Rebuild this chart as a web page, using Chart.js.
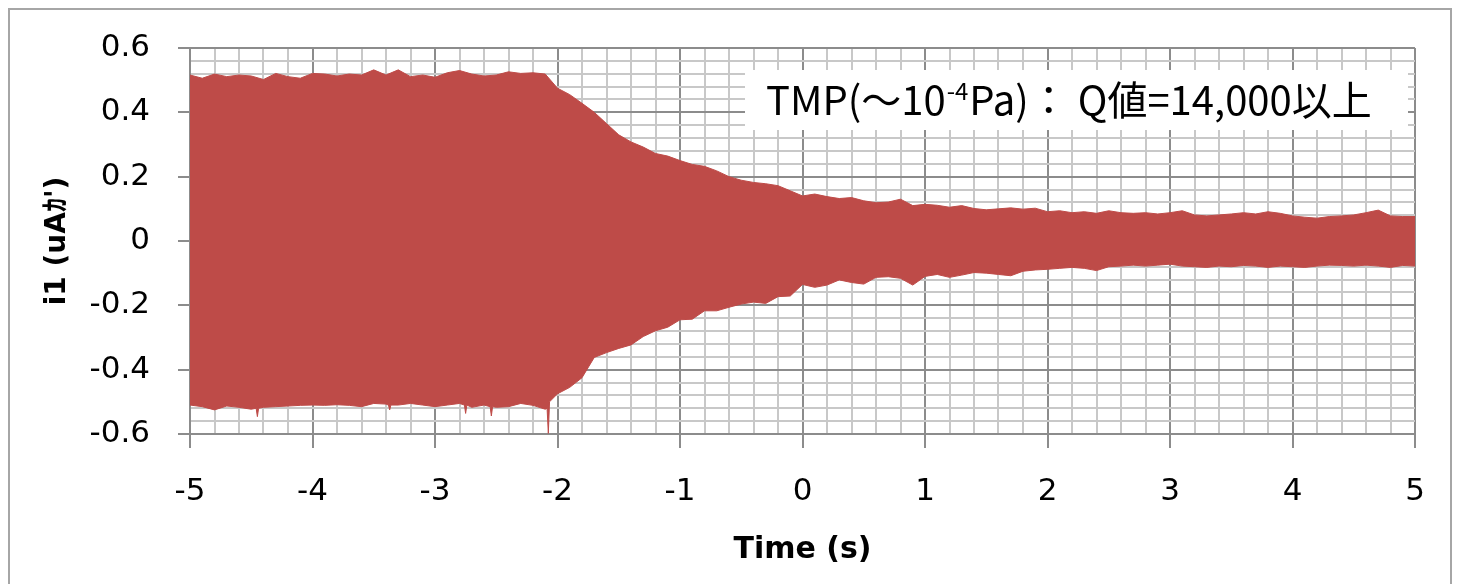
<!DOCTYPE html>
<html>
<head>
<meta charset="utf-8">
<script src="https://cdn.jsdelivr.net/npm/chart.js@4.4.1/dist/chart.umd.min.js"></script>
<style>
    html, body { margin: 0; padding: 0; background: #fff; }
    #wrap { position: relative; width: 1460px; height: 584px; overflow: hidden; }
    #frame { position: absolute; left: 8px; top: 8px; width: 1444px; height: 620px; border: 2px solid #a6a6a6; box-sizing: border-box; }
    #chart { position: absolute; left: 0; top: 0; }
</style>
</head>
<body>
<div id="wrap">
    <div id="frame"></div>
    <canvas id="chart" width="1460" height="584"></canvas>
</div>
<script>
// sample times (s) along the trace, every 0.1 s
const times = [
    -5.0, -4.9, -4.8, -4.7, -4.6, -4.5, -4.4, -4.3, -4.2, -4.1,
    -4.0, -3.9, -3.8, -3.7, -3.6, -3.5, -3.4, -3.3, -3.2, -3.1,
    -3.0, -2.9, -2.8, -2.7, -2.6, -2.5, -2.4, -2.3, -2.2, -2.1,
    -2.0, -1.9, -1.8, -1.7, -1.6, -1.5, -1.4, -1.3, -1.2, -1.1,
    -1.0, -0.9, -0.8, -0.7, -0.6, -0.5, -0.4, -0.3, -0.2, -0.1,
    0.0, 0.1, 0.2, 0.3, 0.4, 0.5, 0.6, 0.7, 0.8, 0.9,
    1.0, 1.1, 1.2, 1.3, 1.4, 1.5, 1.6, 1.7, 1.8, 1.9,
    2.0, 2.1, 2.2, 2.3, 2.4, 2.5, 2.6, 2.7, 2.8, 2.9,
    3.0, 3.1, 3.2, 3.3, 3.4, 3.5, 3.6, 3.7, 3.8, 3.9,
    4.0, 4.1, 4.2, 4.3, 4.4, 4.5, 4.6, 4.7, 4.8, 4.9, 5.0
];

// upper envelope of i1 (uA)
const upperEnv = [
    0.516, 0.506, 0.519, 0.511, 0.516, 0.513, 0.502, 0.521, 0.511, 0.506,
    0.521, 0.519, 0.513, 0.519, 0.516, 0.532, 0.516, 0.532, 0.511, 0.516,
    0.509, 0.523, 0.530, 0.519, 0.513, 0.516, 0.526, 0.521, 0.523, 0.519,
    0.475, 0.455, 0.428, 0.400, 0.365, 0.330, 0.308, 0.292, 0.272, 0.264,
    0.250, 0.238, 0.232, 0.218, 0.200, 0.189, 0.182, 0.178, 0.172, 0.156,
    0.140, 0.146, 0.138, 0.132, 0.135, 0.125, 0.119, 0.121, 0.130, 0.110,
    0.114, 0.111, 0.105, 0.110, 0.101, 0.097, 0.100, 0.103, 0.099, 0.102,
    0.091, 0.094, 0.088, 0.091, 0.086, 0.094, 0.088, 0.086, 0.088, 0.084,
    0.088, 0.094, 0.081, 0.078, 0.081, 0.084, 0.088, 0.084, 0.091, 0.086,
    0.078, 0.074, 0.071, 0.076, 0.078, 0.081, 0.088, 0.096, 0.078, 0.076, 0.076
];

// lower envelope of i1 (uA)
const lowerEnv = [
    -0.510, -0.515, -0.525, -0.513, -0.517, -0.523, -0.517, -0.515, -0.513, -0.511,
    -0.510, -0.511, -0.509, -0.511, -0.515, -0.505, -0.507, -0.510, -0.505, -0.510,
    -0.515, -0.510, -0.505, -0.517, -0.510, -0.517, -0.515, -0.505, -0.511, -0.523,
    -0.475, -0.455, -0.425, -0.362, -0.347, -0.334, -0.323, -0.297, -0.279, -0.268,
    -0.245, -0.243, -0.217, -0.217, -0.206, -0.196, -0.190, -0.194, -0.173, -0.171,
    -0.135, -0.144, -0.137, -0.121, -0.129, -0.134, -0.113, -0.111, -0.116, -0.137,
    -0.110, -0.104, -0.113, -0.106, -0.098, -0.100, -0.104, -0.108, -0.094, -0.090,
    -0.088, -0.085, -0.082, -0.085, -0.092, -0.080, -0.078, -0.075, -0.078, -0.075,
    -0.072, -0.078, -0.080, -0.082, -0.078, -0.080, -0.076, -0.078, -0.082, -0.078,
    -0.080, -0.082, -0.078, -0.075, -0.076, -0.078, -0.075, -0.078, -0.082, -0.076, -0.078
];

// narrow downward spikes on the lower edge [time, value]
const lowerSpikes = [
    [-4.46, -0.520], [-4.45, -0.546], [-4.44, -0.520],
    [-3.38, -0.510], [-3.37, -0.525], [-3.36, -0.510],
    [-2.76, -0.510], [-2.75, -0.536], [-2.74, -0.510],
    [-2.55, -0.515], [-2.54, -0.544], [-2.53, -0.515],
    [-2.085, -0.520], [-2.075, -0.598], [-2.065, -0.500]
];

const xTickLabels = [-5, -4, -3, -2, -1, 0, 1, 2, 3, 4, 5];
const yTickLabels = [0.6, 0.4, 0.2, 0, -0.2, -0.4, -0.6];

const noteText = ['TMP(～10', '-4', 'Pa)： Q値=14,000以上'];

const traceColor = '#be4b48';
const majorGrid = '#8c8c8c';
const minorGrid = '#c8c8c8';

function buildSeries(vals, extra) {
    const pts = times.map((t, i) => ({ x: t, y: vals[i] }));
    extra.forEach(p => pts.push({ x: p[0], y: p[1] }));
    return pts.sort((a, b) => a.x - b.x);
}

function isListed(list, v) {
    return list.some(l => Math.abs(l - v) < 1e-6);
}

const noteBox = {
    id: 'noteBox',
    afterDatasetsDraw(chart) {
        const ctx = chart.ctx;
        ctx.save();
        ctx.fillStyle = '#ffffff';
        ctx.fillRect(745, 70, 663, 60);
        ctx.fillStyle = '#000000';
        ctx.textBaseline = 'alphabetic';
        let x = 766;
        const base = 115;
        ctx.font = '40px "Noto Sans CJK JP"';
        ctx.fillText(noteText[0], x, base);
        x += ctx.measureText(noteText[0]).width + 1;
        ctx.font = '24px "Noto Sans CJK JP"';
        ctx.fillText(noteText[1], x, base - 15);
        x += ctx.measureText(noteText[1]).width + 1;
        ctx.font = '40px "Noto Sans CJK JP"';
        ctx.fillText(noteText[2], x, base);
        ctx.restore();
    }
};

const tickFont = { family: '"DejaVu Sans", "Noto Sans CJK JP"', size: 31 };

new Chart(document.getElementById('chart'), {
    type: 'line',
    data: {
        datasets: [
            {
                label: 'upper',
                data: buildSeries(upperEnv, []),
                borderColor: traceColor,
                backgroundColor: traceColor,
                borderWidth: 1,
                pointRadius: 0,
                fill: false
            },
            {
                label: 'lower',
                data: buildSeries(lowerEnv, lowerSpikes),
                borderColor: traceColor,
                backgroundColor: traceColor,
                borderWidth: 1,
                pointRadius: 0,
                fill: '-1'
            }
        ]
    },
    options: {
        responsive: false,
        animation: false,
        devicePixelRatio: 1,
        layout: { padding: { top: 48, right: 45, bottom: 0, left: 0 } },
        plugins: {
            legend: { display: false },
            tooltip: { enabled: false }
        },
        scales: {
            x: {
                type: 'linear',
                min: -5,
                max: 5,
                afterFit: s => { s.height = 150; },
                ticks: {
                    stepSize: 0.2,
                    autoSkip: false,
                    maxRotation: 0,
                    color: '#000',
                    font: tickFont,
                    padding: 25,
                    callback: v => isListed(xTickLabels, v) ? String(Math.round(v)) : ''
                },
                grid: {
                    color: c => c.tick && isListed(xTickLabels, c.tick.value) ? majorGrid : minorGrid,
                    tickColor: c => c.tick && isListed(xTickLabels, c.tick.value) ? majorGrid : 'rgba(0,0,0,0)',
                    lineWidth: 2,
                    tickLength: 14
                },
                border: { color: majorGrid, width: 2 },
                title: {
                    display: true,
                    text: 'Time (s)',
                    color: '#000',
                    font: { family: '"DejaVu Sans"', size: 30, weight: 'bold' },
                    padding: { top: 0, bottom: 16 }
                }
            },
            y: {
                type: 'linear',
                min: -0.6,
                max: 0.6,
                afterFit: s => { s.width = 190; },
                ticks: {
                    stepSize: 0.04,
                    autoSkip: false,
                    color: '#000',
                    font: tickFont,
                    padding: 28,
                    callback: v => isListed(yTickLabels, v) ? String(Math.round(v * 10) / 10) : ''
                },
                grid: {
                    color: c => c.tick && isListed(yTickLabels, c.tick.value) ? majorGrid : minorGrid,
                    tickColor: c => c.tick && isListed(yTickLabels, c.tick.value) ? majorGrid : 'rgba(0,0,0,0)',
                    lineWidth: 2,
                    tickLength: 12
                },
                border: { color: majorGrid, width: 2 },
                title: {
                    display: true,
                    text: "i1 (uAｶ')",
                    color: '#000',
                    font: { family: '"DejaVu Sans", "Noto Sans CJK JP"', size: 28, weight: 'bold' },
                    padding: { top: 41, bottom: 0 }
                }
            }
        }
    },
    plugins: [noteBox]
});
</script>
</body>
</html>
